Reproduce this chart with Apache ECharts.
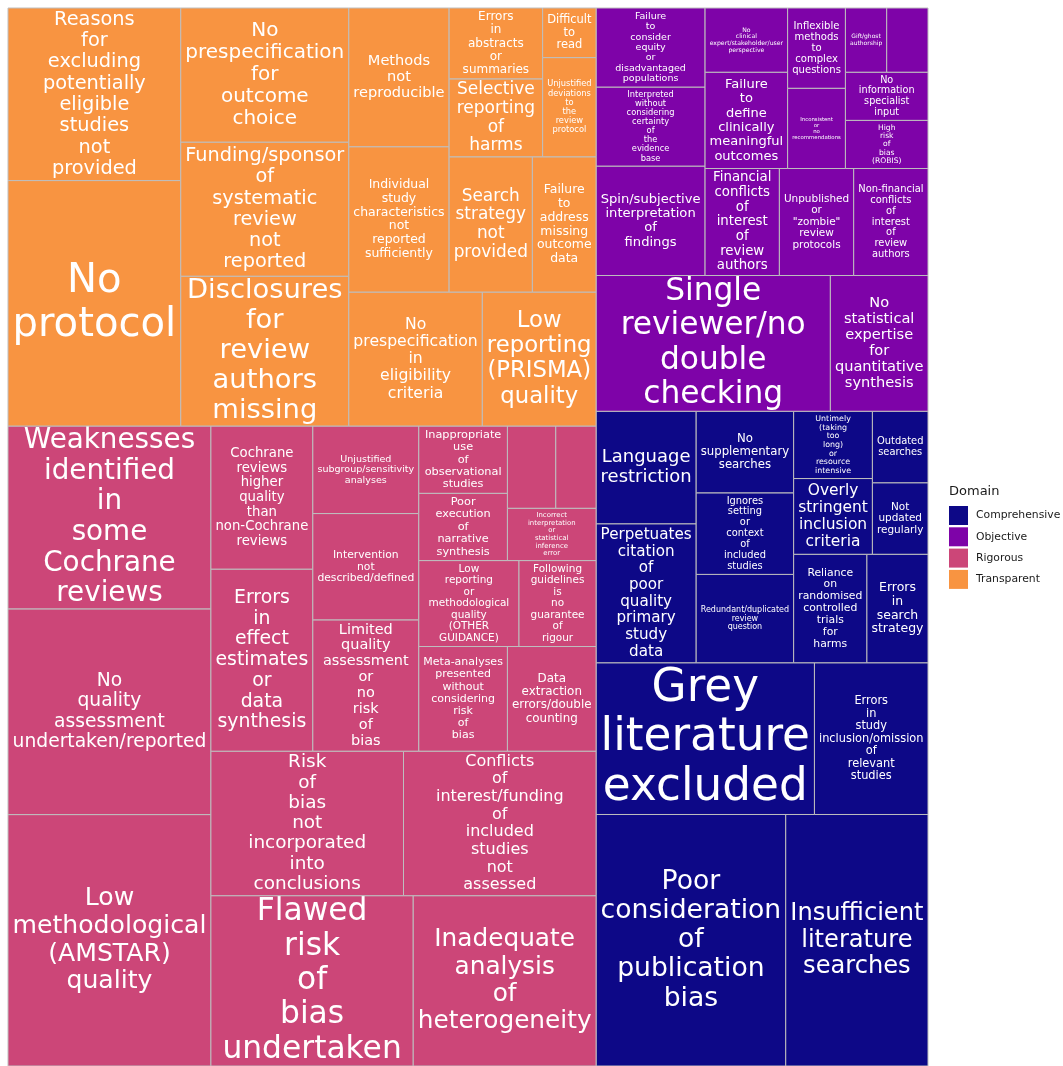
<!DOCTYPE html>
<html>
<head>
<meta charset="utf-8">
<script src="https://cdn.jsdelivr.net/npm/echarts@6/dist/echarts.min.js"></script>
<style>
html,body{margin:0;padding:0;background:#ffffff;}
#chart{width:1063px;height:1066px;}
</style>
</head>
<body>
<div id="chart"></div>
<script>
// ---------------- data (counts read from tile areas) ----------------
const domains = ['Comprehensive', 'Objective', 'Rigorous', 'Transparent'];
const domainColors = ['#0D0887', '#7E03A8', '#CC4678', '#F89441'];

const comprehensiveIssues = [
  'Poor consideration of publication bias',
  'Insufficient literature searches',
  'Grey literature excluded',
  'Errors in study inclusion/omission of relevant studies',
  'Perpetuates citation of poor quality primary study data',
  'Language restriction',
  'Redundant/duplicated review question',
  'Ignores setting or context of included studies',
  'No supplementary searches',
  'Reliance on randomised controlled trials for harms',
  'Errors in search strategy',
  'Overly stringent inclusion criteria',
  'Untimely (taking too long) or resource intensive',
  'Not updated regularly',
  'Outdated searches'
];
const comprehensiveCounts = [72, 54, 50, 26, 21, 17, 13, 12, 12, 12, 10, 9, 8, 6, 6];

const objectiveIssues = [
  'Single reviewer/no double checking',
  'No statistical expertise for quantitative synthesis',
  'Spin/subjective interpretation of findings',
  'Interpreted without considering certainty of the evidence base',
  'Failure to consider equity or disadvantaged populations',
  'Financial conflicts of interest of review authors',
  'Unpublished or "zombie" review protocols',
  'Non-financial conflicts of interest of review authors',
  'Failure to define clinically meaningful outcomes',
  'No clinical expert/stakeholder/user perspective',
  'Inconsistent or no recommendations',
  'Inflexible methods to complex questions',
  'High risk of bias (ROBIS)',
  'No information specialist input',
  'Gift/ghost authorship',
  ''
];
const objectiveCounts = [48, 20, 18, 13, 13, 12, 12, 12, 12, 8, 7, 7, 6, 6, 4, 4];

const rigorousIssues = [
  'Low methodological (AMSTAR) quality',
  'No quality assessment undertaken/reported',
  'Weaknesses identified in some Cochrane reviews',
  'Flawed risk of bias undertaken',
  'Inadequate analysis of heterogeneity',
  'Risk of bias not incorporated into conclusions',
  'Conflicts of interest/funding of included studies not assessed',
  'Errors in effect estimates or data synthesis',
  'Cochrane reviews higher quality than non-Cochrane reviews',
  'Limited quality assessment or no risk of bias',
  'Intervention not described/defined',
  'Unjustified subgroup/sensitivity analyses',
  'Meta-analyses presented without considering risk of bias',
  'Data extraction errors/double counting',
  'Low reporting or methodological quality (OTHER GUIDANCE)',
  'Following guidelines is no guarantee of rigour',
  'Poor execution of narrative synthesis',
  'Inappropriate use of observational studies',
  'Incorrect interpretation or statistical inference error',
  '',
  ''
];
const rigorousCounts = [77, 63, 56, 52, 47, 42, 42, 28, 22, 21, 17, 14, 14, 14, 13, 10, 9, 9, 7, 6, 5];

const transparentIssues = [
  'No protocol',
  'Reasons for excluding potentially eligible studies not provided',
  'Disclosures for review authors missing',
  'Funding/sponsor of systematic review not reported',
  'No prespecification for outcome choice',
  'No prespecification in eligibility criteria',
  'Low reporting (PRISMA) quality',
  'Individual study characteristics not reported sufficiently',
  'Methods not reproducible',
  'Search strategy not provided',
  'Failure to address missing outcome data',
  'Selective reporting of harms',
  'Errors in abstracts or summaries',
  'Unjustified deviations to the review protocol',
  'Difficult to read'
];
const transparentCounts = [64, 45, 38, 34, 34, 27, 23, 22, 21, 17, 13, 11, 10, 8, 4];

// ---------------- squarified treemap layout (unit square, origin bottom-left) ----------------
const domainIssues = [comprehensiveIssues, objectiveIssues, rigorousIssues, transparentIssues];
const domainCounts = [comprehensiveCounts, objectiveCounts, rigorousCounts, transparentCounts];

function worst(areas, len) {
  const s = areas.reduce((a, b) => a + b, 0);
  const t = s / len;
  let w = 0;
  for (const a of areas) { const l = a / t; w = Math.max(w, l / t, t / l); }
  return w;
}
function squarify(items, rect) {
  const out = [];
  const r = { x: rect.x, y: rect.y, w: rect.w, h: rect.h };
  let i = 0;
  while (i < items.length) {
    const vertical = r.w >= r.h;
    const len = vertical ? r.h : r.w;
    const row = [items[i]]; i++;
    while (i < items.length) {
      const cur = worst(row.map(d => d.area), len);
      const nxt = worst(row.concat([items[i]]).map(d => d.area), len);
      if (nxt <= cur) { row.push(items[i]); i++; } else break;
    }
    const s = row.reduce((a, d) => a + d.area, 0);
    const t = s / len;
    let off = 0;
    for (const d of row) {
      const l = d.area / t;
      if (vertical) out.push(Object.assign({}, d, { x0: r.x, x1: r.x + t, y0: r.y + off, y1: r.y + off + l }));
      else out.push(Object.assign({}, d, { x0: r.x + off, x1: r.x + off + l, y0: r.y, y1: r.y + t }));
      off += l;
    }
    if (vertical) { r.x += t; r.w -= t; } else { r.y += t; r.h -= t; }
  }
  return out;
}

const grand = domainCounts.reduce((s, arr) => s + arr.reduce((a, b) => a + b, 0), 0);
const groups = domains.map((d, k) => ({
  k: k,
  area: domainCounts[k].reduce((a, b) => a + b, 0) / grand
})).sort((a, b) => b.area - a.area);
const groupRects = squarify(groups, { x: 0, y: 0, w: 1, h: 1 });

const tilesByDomain = [];
groupRects.forEach(g => {
  const k = g.k;
  const items = domainIssues[k].map((name, j) => ({ name: name, count: domainCounts[k][j], area: domainCounts[k][j] / grand }))
    .sort((a, b) => b.count - a.count);
  tilesByDomain[k] = squarify(items, { x: g.x0, y: g.y0, w: g.x1 - g.x0, h: g.y1 - g.y0 });
});

// ---------------- label fitting ----------------
const measureCtx = document.createElement('canvas').getContext('2d');
measureCtx.font = '100px "DejaVu Sans"';
function emWidth(line) { return measureCtx.measureText(line).width / 100; }
const PAD = 4.5;

function makeRender(k) {
  return function (params, api) {
    const tile = tilesByDomain[k][params.dataIndex];
    const p0 = api.coord([api.value(0), api.value(3)]);
    const p1 = api.coord([api.value(2), api.value(1)]);
    const w = p1[0] - p0[0], h = p1[1] - p0[1];
    const children = [{
      type: 'rect',
      shape: { x: p0[0], y: p0[1], width: w, height: h },
      style: { fill: domainColors[k], stroke: '#BEBEBE', lineWidth: 1 }
    }];
    if (tile.name) {
      const lines = tile.name.split(' ');
      const maxEm = Math.max.apply(null, lines.map(emWidth));
      const fsW = (w - 2 * PAD) / maxEm;
      const fsH = (h - 2 * PAD) / (1.1 * (lines.length - 1) + 0.75);
      const fs = Math.min(fsW, fsH);
      if (fs >= 3.5) {
        children.push({
          type: 'text',
          x: p0[0] + w / 2,
          y: p0[1] + h / 2,
          style: {
            text: lines.join('\n'),
            fill: '#ffffff',
            fontSize: fs,
            fontFamily: 'DejaVu Sans',
            align: 'center',
            verticalAlign: 'middle',
            lineHeight: fs * 1.1
          }
        });
      }
    }
    return { type: 'group', children: children };
  };
}

const series = domains.map((d, k) => ({
  type: 'custom',
  name: d,
  renderItem: makeRender(k),
  itemStyle: { color: domainColors[k] },
  encode: { x: [0, 2], y: [1, 3] },
  data: tilesByDomain[k].map(t => ({ name: t.name, value: [t.x0, t.y0, t.x1, t.y1, t.count] }))
}));

const chart = echarts.init(document.getElementById('chart'), null, { renderer: 'canvas' });
chart.setOption({
  animation: false,
  backgroundColor: '#ffffff',
  title: {
    text: 'Domain', left: 949, top: 485, padding: 0,
    textStyle: { fontFamily: 'DejaVu Sans', fontSize: 13, fontWeight: 'normal', color: '#1a1a1a' }
  },
  legend: {
    orient: 'vertical', left: 949, top: 506, padding: 0,
    itemWidth: 19, itemHeight: 19, itemGap: 2.3, icon: 'rect', selectedMode: false,
    textStyle: { fontFamily: 'DejaVu Sans', fontSize: 10.8, color: '#1a1a1a', padding: [0, 0, 0, 3] },
    data: domains.map((d, k) => ({ name: d, itemStyle: { color: domainColors[k] } }))
  },
  grid: { left: 8, top: 8, width: 920, height: 1058 },
  xAxis: { type: 'value', min: 0, max: 1, show: false },
  yAxis: { type: 'value', min: 0, max: 1, show: false },
  series: series
});
</script>
</body>
</html>
